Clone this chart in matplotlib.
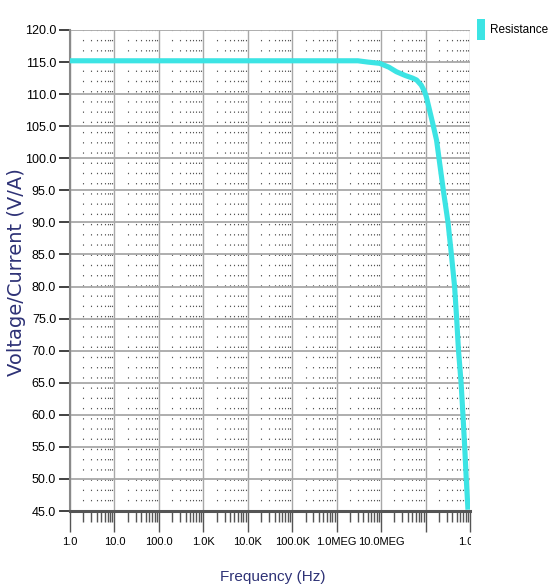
import matplotlib
matplotlib.use("Agg")
import matplotlib.pyplot as plt
from matplotlib.patches import Patch
from matplotlib.ticker import FixedLocator, NullFormatter
from matplotlib.transforms import Bbox, TransformedBbox
import numpy as np

# values
freq_hz = [1.0, 1e6, 3e6, 5e6, 9.3e6, 1.5e7, 2.2e7, 3.5e7, 5.1e7, 6.3e7, 8e7,
           9.5e7, 1.04e8, 1.23e8, 1.5e8, 1.77e8, 2.5e8, 3.2e8, 3.8e8, 4.5e8,
           5.0e8, 5.5e8, 6.3e8, 6.9e8, 7.6e8, 8.2e8, 9.0e8]
resistance = [115.2, 115.2, 115.2, 115.0, 114.8, 114.2, 113.5, 112.9, 112.5, 112.2, 111.4,
              110.4, 109.6, 107.5, 105.0, 102.8, 95.1, 90.0, 85.1, 80.0,
              75.1, 70.1, 65.0, 60.3, 55.0, 50.3, 45.2]

x_ticks = [1e0, 1e1, 1e2, 1e3, 1e4, 1e5, 1e6, 1e7, 1e8, 1e9]
x_tick_labels = ['1.0', '10.0', '100.0', '1.0K', '10.0K', '100.0K', '1.0MEG', '10.0MEG', '', '1.0G']
y_ticks = np.arange(45, 121, 5)

line_color = '#3ce4e4'
font = ['Liberation Sans', 'DejaVu Sans']

fig = plt.figure(figsize=(5.55, 5.88), dpi=100)
ax = fig.add_axes([70 / 555, 1 - 511 / 588, 400 / 555, 481 / 588])

ax.plot(freq_hz, resistance, color=line_color, lw=3.7, solid_capstyle='butt', zorder=5)

ax.set_xscale('log')
ax.set_xlim(1, 1e9)
ax.set_ylim(45, 120)

ax.xaxis.set_major_locator(FixedLocator(x_ticks))
ax.set_xticklabels(x_tick_labels)
minor = [m * 10 ** d for d in range(9) for m in range(2, 10)]
ax.xaxis.set_minor_locator(FixedLocator(minor))
ax.xaxis.set_minor_formatter(NullFormatter())
ax.set_yticks(y_ticks)
ax.set_yticklabels([f'{v:.1f}' for v in y_ticks])

# grid
ax.grid(True, which='major', axis='y', color='#a8a8a8', lw=1.3, zorder=1)
ax.grid(True, which='major', axis='x', color='#a8a8a8', lw=1.0, zorder=1)
ax.grid(True, which='minor', axis='x', color='#555555', lw=0.8,
        linestyle=(0, (1.2, 8)), zorder=1)

for s in ['top', 'right']:
    ax.spines[s].set_visible(False)
ax.spines['left'].set_color('#8a8a8a')
ax.spines['left'].set_linewidth(1.5)
ax.spines['bottom'].set_color('#555555')
ax.spines['bottom'].set_linewidth(2.2)

ax.tick_params(axis='x', which='major', direction='out', length=15, width=1,
               color='#555555', pad=4)
ax.tick_params(axis='x', which='minor', direction='out', length=8, width=1,
               color='#555555')
ax.tick_params(axis='y', which='major', direction='out', length=8, width=1.3,
               color='#333333', pad=2)

for lbl in ax.get_xticklabels():
    lbl.set_family(font)
    lbl.set_fontsize(8)
for lbl in ax.get_yticklabels():
    lbl.set_family(font)
    lbl.set_fontsize(9)

# last x label is clipped at the plot's right edge in the original
clip = TransformedBbox(Bbox([[0, 0], [471 / 555, 1]]), fig.transFigure)
for lbl in ax.get_xticklabels():
    lbl.set_clip_box(clip)
    lbl.set_clip_on(True)

fig.text(17 / 555, 1 - 272 / 588, 'Voltage/Current (V/A)', rotation=90,
         ha='center', va='center', fontsize=14, color='#2e3276')
fig.text(273 / 555, 1 - 577 / 588, 'Frequency (Hz)', ha='center', va='center',
         fontsize=11, color='#2e3276', family=font)

handle = Patch(facecolor=line_color, edgecolor='none')
fig.legend([handle], ['Resistance'], loc='upper left',
           bbox_to_anchor=(477 / 555, 1 - 19 / 588), frameon=False,
           handlelength=0.7, handleheight=2.3, handletextpad=0.4,
           borderpad=0, borderaxespad=0, prop={'family': font, 'size': 8.5})

fig.savefig('out.png', dpi=100)
